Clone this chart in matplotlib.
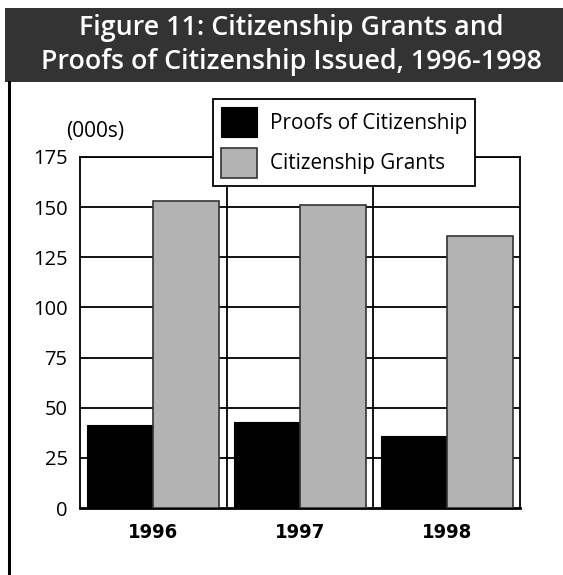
import matplotlib
matplotlib.use("Agg")
import matplotlib.pyplot as plt
import numpy as np
from matplotlib.patches import Rectangle
from matplotlib.lines import Line2D

# data (thousands)
years = ["1996", "1997", "1998"]
proofs = [41.5, 43, 36]
grants = [153, 151, 135.5]
yticks = [0, 25, 50, 75, 100, 125, 150, 175]

plt.rcParams['font.family'] = ['Open Sans', 'DejaVu Sans']

fig = plt.figure(figsize=(5.63, 5.75), dpi=100)

# title banner
fig.patches.append(Rectangle((5/563, 1-82/575), 1, 74/575, transform=fig.transFigure,
                             facecolor='#333333', edgecolor='none'))
fig.text(0.517, 1-45/575, "Figure 11: Citizenship Grants and\nProofs of Citizenship Issued, 1996-1998",
         color='white', ha='center', va='center', fontsize=19.3,
         fontweight='semibold', linespacing=1.25)
# left rule
fig.lines.append(Line2D([9/563, 9/563], [0, 1-82/575], transform=fig.transFigure,
                        color='black', lw=2.2))

ax = fig.add_axes([80/563, 1-508/575, 440/563, 351/575])
x = np.arange(len(years))
w = 0.45
ax.bar(x - w/2, proofs, w, color='black', edgecolor='black', lw=0.8,
       label='Proofs of Citizenship', zorder=3)
ax.bar(x + w/2, grants, w, color='#b3b3b3', edgecolor='#333333', lw=1.2,
       label='Citizenship Grants', zorder=3)

ax.set_xlim(-0.5, 2.5)
ax.set_ylim(0, 175)
ax.set_yticks(yticks)
ax.set_yticklabels([str(t) for t in yticks], fontsize=14.5)
ax.set_xticks(x)
ax.set_xticklabels(years, fontsize=14.5, fontweight='bold', family='DejaVu Sans',
                   fontstretch='condensed')
ax.tick_params(axis='y', length=0, pad=9)
ax.tick_params(axis='x', length=0, pad=11)
for t in yticks[1:]:
    ax.axhline(t, color='black', lw=1.3, zorder=1)
for b in [0.5, 1.5]:
    ax.axvline(b, color='black', lw=1.3, zorder=1)
for s in ax.spines.values():
    s.set_linewidth(1.3)
ax.spines['bottom'].set_linewidth(2)

fig.text(66/563, 1-132/575, "(000s)", fontsize=15, va='center', ha='left')

leg = ax.legend(loc='upper left', bbox_to_anchor=(213/563, 1-99/575),
                bbox_transform=fig.transFigure, fontsize=14.9, handlelength=1.75,
                handleheight=1.85, fancybox=False, framealpha=1, edgecolor='black',
                borderpad=0.4, labelspacing=0.5, handletextpad=0.6, borderaxespad=0)
leg.get_frame().set_linewidth(1.3)
leg.set_zorder(5)

fig.savefig("out.png", dpi=100)
